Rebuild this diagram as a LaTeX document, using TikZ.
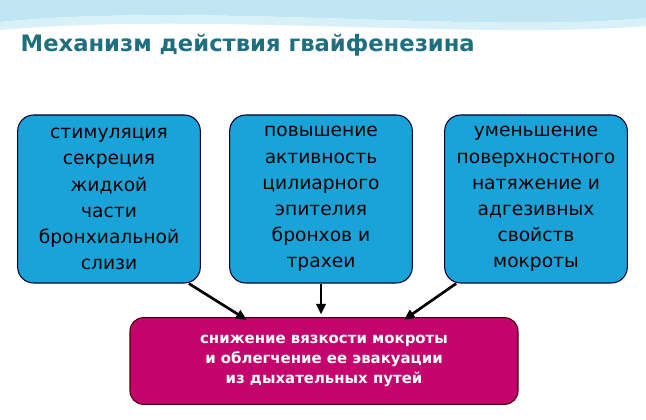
\documentclass[tikz,border=0pt]{standalone}
\usepackage{fontspec}
\setmainfont{DejaVu Sans}
\usepackage{xcolor}
\usetikzlibrary{positioning, arrows.meta}
\definecolor{boxblue}{HTML}{1AA3D8}
\definecolor{boxpink}{HTML}{C4046C}
\definecolor{titleteal}{HTML}{1F6F80}
\definecolor{wave}{HTML}{BFE6F2}

\begin{document}
\begin{tikzpicture}[
            x=0.75pt, y=-0.75pt,
            effect/.style={rectangle, rounded corners=12pt, draw=black!80!blue, thick, fill=boxblue,
                minimum width=137pt, minimum height=126pt, align=center, font=\fontsize{14}{19.6}\selectfont},
            result/.style={rectangle, rounded corners=10pt, draw=black!70!red, thick, fill=boxpink,
                minimum width=291pt, minimum height=65pt, align=center, text=white,
                font=\bfseries\fontsize{11.2}{15}\selectfont},
            link/.style={-{Triangle[length=8pt,width=7pt]}, line width=2pt}
        ]
        \useasboundingbox (0,0) rectangle (646,420);
        % background waves
        \fill[wave] (0,0) -- (646,0) -- (646,18) .. controls (480,34) and (200,2) .. (0,22) -- cycle;
        \fill[wave!60] (0,22) .. controls (200,2) and (480,34) .. (646,18) -- (646,26) .. controls (480,40) and (200,12) .. (0,30) -- cycle;

        \node[anchor=west, text=titleteal, font=\bfseries\fontsize{17}{19}\selectfont] (title) at (16,45) {Механизм действия гвайфенезина};

        \node[effect] (mucus) at (109,199) {стимуляция\\секреция\\жидкой\\части\\бронхиальной\\слизи};
        \node[effect] (cilia) at (321,199) {повышение\\активность\\цилиарного\\эпителия\\бронхов и\\трахеи};
        \node[effect] (tension) at (536,199) {уменьшение\\поверхностного\\натяжение и\\адгезивных\\свойств\\мокроты};

        \node[result] (outcome) at (324,361) {снижение вязкости мокроты\\и облегчение ее эвакуации\\из дыхательных путей};

        \draw[link] ([xshift=-9pt]mucus.south east) -- ([xshift=-58pt,yshift=-2pt]outcome.north);
        \draw[link] (cilia.south) -- ([yshift=2pt]cilia.south |- outcome.north);
        \draw[link] ([xshift=9pt]tension.south west) -- ([xshift=60pt,yshift=-2pt]outcome.north);
\end{tikzpicture}
\end{document}
